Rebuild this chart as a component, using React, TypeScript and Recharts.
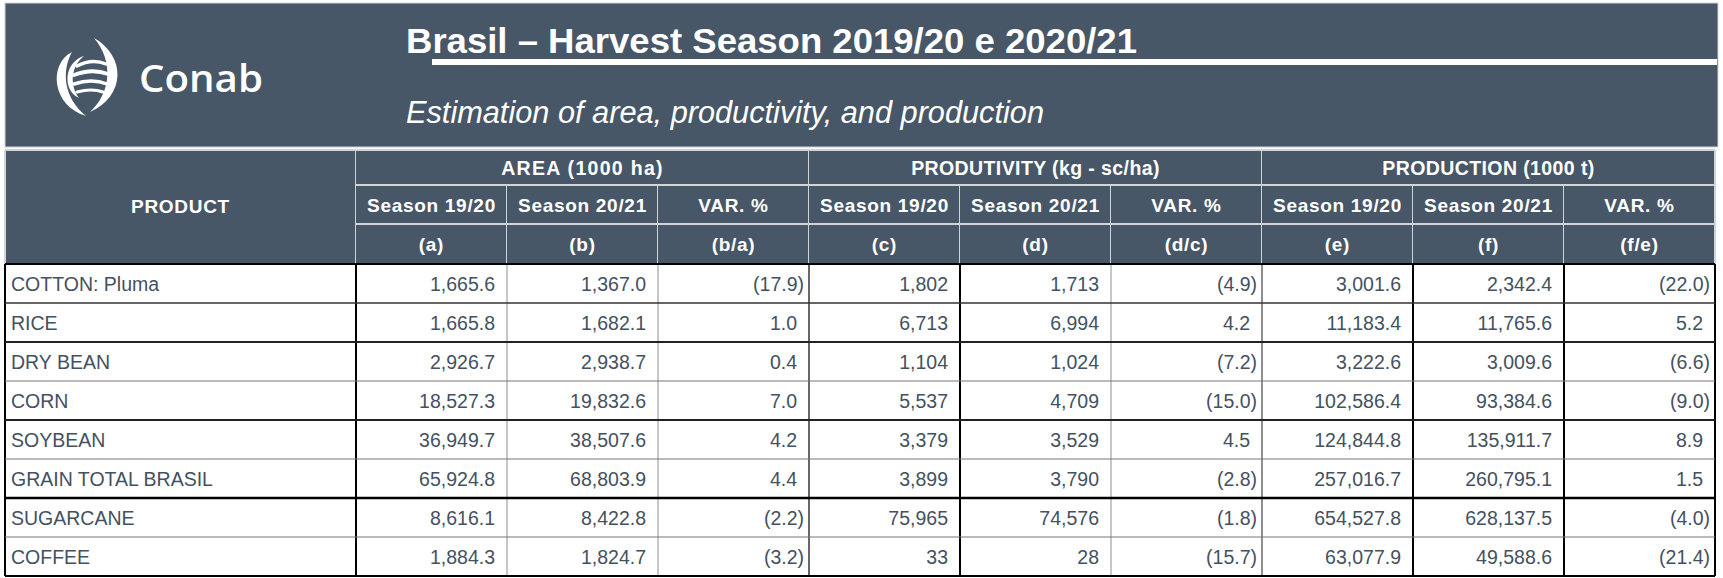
import React from 'react';
import { ScatterChart, Scatter, XAxis, YAxis, Customized } from 'recharts';

// ---------- data ----------
const products = ['COTTON: Pluma', 'RICE', 'DRY BEAN', 'CORN', 'SOYBEAN', 'GRAIN TOTAL BRASIL', 'SUGARCANE', 'COFFEE'];
const area1920 = [1665.6, 1665.8, 2926.7, 18527.3, 36949.7, 65924.8, 8616.1, 1884.3];
const area2021 = [1367.0, 1682.1, 2938.7, 19832.6, 38507.6, 68803.9, 8422.8, 1824.7];
const areaVar = [-17.9, 1.0, 0.4, 7.0, 4.2, 4.4, -2.2, -3.2];
const yield1920 = [1802, 6713, 1104, 5537, 3379, 3899, 75965, 33];
const yield2021 = [1713, 6994, 1024, 4709, 3529, 3790, 74576, 28];
const yieldVar = [-4.9, 4.2, -7.2, -15.0, 4.5, -2.8, -1.8, -15.7];
const output1920 = [3001.6, 11183.4, 3222.6, 102586.4, 124844.8, 257016.7, 654527.8, 63077.9];
const output2021 = [2342.4, 11765.6, 3009.6, 93384.6, 135911.7, 260795.1, 628137.5, 49588.6];
const outputVar = [-22.0, 5.2, -6.6, -9.0, 8.9, 1.5, -4.0, -21.4];

const columnLetters = ['(a)', '(b)', '(b/a)', '(c)', '(d)', '(d/c)', '(e)', '(f)', '(f/e)'];
const seasonLabels = ['Season 19/20', 'Season 20/21', 'VAR. %', 'Season 19/20', 'Season 20/21', 'VAR. %', 'Season 19/20', 'Season 20/21', 'VAR. %'];
const groupLabels = ['AREA (1000 ha)', 'PRODUTIVITY (kg - sc/ha)', 'PRODUCTION (1000 t)'];
const productHeader = 'PRODUCT';
const title = 'Brasil \u2013 Harvest Season 2019/20 e 2020/21';
const subtitle = 'Estimation of area, productivity, and production';
const brand = 'Conab';

const columnValues = [area1920, area2021, areaVar, yield1920, yield2021, yieldVar, output1920, output2021, outputVar];
const columnDecimals = [1, 1, 1, 0, 0, 1, 1, 1, 1];

const cells = products.flatMap((p, r) =>
  columnLetters.map((c, ci) => ({ col: c, product: p, value: columnValues[ci][r], ci }))
);
const groupPoints = groupLabels.map((g) => ({ group: g, product: products[0] }));

// ---------- layout / style ----------
const W = 1723;
const H = 578;
const LEFT = 5;
const PRODUCT_W = 351;
const RIGHT_M = 8;
const TOP = 150;
const GROUP_H = 35;
const SEASON_H = 79;
const BOTTOM_M = 2;
const CW = (W - LEFT - PRODUCT_W - RIGHT_M) / columnLetters.length;
const DATA_TOP = TOP + GROUP_H + SEASON_H;
const RH = (H - BOTTOM_M - DATA_TOP) / products.length;
const SEASON_TOP = TOP + GROUP_H;
const LETTER_TOP = SEASON_TOP + 39;
const PLOT_RIGHT = W - RIGHT_M;

const SLATE = '#485767';
const LIGHT = '#cfd4d9';
const INK = '#44515f';
const FONT = '"Liberation Sans", Arial, sans-serif';
const DATA_FS = 19.5;

const colBorder = [
  { c: '#8a8f94', w: 1 }, { c: '#8a8f94', w: 1 }, { c: '#333', w: 1.5 },
  { c: '#000', w: 2 }, { c: '#8a8f94', w: 1 }, { c: '#444', w: 1.2 },
  { c: '#000', w: 2 }, { c: '#000', w: 2 }, { c: '#000', w: 2 },
];
const rowBorder = [
  { c: '#333', w: 1.5 }, { c: '#222', w: 2 }, { c: '#777', w: 1 }, { c: '#222', w: 2 },
  { c: '#777', w: 1 }, { c: '#000', w: 2.5 }, { c: '#777', w: 1 }, { c: '#000', w: 2 },
];

const fmt = (v: number, d: number) => {
  const s = Math.abs(v).toLocaleString('en-US', { minimumFractionDigits: d, maximumFractionDigits: d });
  return v < 0 ? `(${s})` : s;
};

// ---------- renderers ----------
const GroupTick = (props: any) => {
  const { x, payload } = props;
  const w = CW * 3;
  const left = x - w / 2;
  const spacing = payload.value === groupLabels[0] ? 1.3 : 0.4;
  return (
    <g>
      <rect x={left} y={TOP} width={w} height={GROUP_H} fill={SLATE} />
      <line x1={left} x2={left + w} y1={TOP} y2={TOP} stroke={LIGHT} strokeWidth={2} />
      <line x1={left} x2={left + w} y1={TOP + GROUP_H} y2={TOP + GROUP_H} stroke={LIGHT} strokeWidth={2} />
      <line x1={left + w} x2={left + w} y1={TOP} y2={TOP + GROUP_H} stroke={LIGHT} strokeWidth={2} />
      <text x={x} y={TOP + 25} textAnchor="middle" fill="#fff" fontFamily={FONT} fontWeight="bold" fontSize={19.5} letterSpacing={spacing}>
        {payload.value}
      </text>
    </g>
  );
};

const SeasonTick = (props: any) => {
  const { x, payload } = props;
  const ci = columnLetters.indexOf(payload.value);
  const left = x - CW / 2;
  const right = x + CW / 2;
  const b = colBorder[ci];
  return (
    <g>
      <rect x={left} y={SEASON_TOP} width={CW} height={SEASON_H} fill={SLATE} />
      <line x1={left} x2={right} y1={LETTER_TOP} y2={LETTER_TOP} stroke={LIGHT} strokeWidth={2} />
      <line x1={right} x2={right} y1={SEASON_TOP} y2={DATA_TOP} stroke={LIGHT} strokeWidth={2} />
      <text x={x} y={SEASON_TOP + 27} textAnchor="middle" fill="#fff" fontFamily={FONT} fontWeight="bold" fontSize={19} letterSpacing={0.7}>
        {seasonLabels[ci]}
      </text>
      <text x={x} y={LETTER_TOP + 27} textAnchor="middle" fill="#fff" fontFamily={FONT} fontWeight="bold" fontSize={19} letterSpacing={0.7}>
        {payload.value}
      </text>
      <line x1={right} x2={right} y1={DATA_TOP} y2={H - BOTTOM_M} stroke={b.c} strokeWidth={b.w} />
    </g>
  );
};

const ProductTick = (props: any) => {
  const { y, payload } = props;
  const r = products.indexOf(payload.value);
  const b = rowBorder[r];
  return (
    <g>
      {r === 0 && (
        <line x1={LEFT} x2={PLOT_RIGHT} y1={y - RH / 2} y2={y - RH / 2} stroke="#000" strokeWidth={2} />
      )}
      <line x1={LEFT} x2={PLOT_RIGHT} y1={y + RH / 2} y2={y + RH / 2} stroke={b.c} strokeWidth={b.w} />
      <text x={LEFT + 6} y={y + 7.5} fill={INK} fontFamily={FONT} fontSize={DATA_FS}>
        {payload.value}
      </text>
    </g>
  );
};

const CellShape = (props: any) => {
  const { cx, cy, payload } = props;
  if (cx == null || cy == null) return null;
  const v = payload.value as number;
  const right = cx + CW / 2;
  const xEnd = v < 0 ? right - 5 : right - 12;
  return (
    <text x={xEnd} y={cy + 7.5} textAnchor="end" fill={INK} fontFamily={FONT} fontSize={DATA_FS}>
      {fmt(v, columnDecimals[payload.ci])}
    </text>
  );
};

const NoShape = () => <g />;

const HeaderBand = () => (
  <g>
    <rect x={LEFT} y={3} width={W - LEFT - 5} height={144} fill={SLATE} stroke={LIGHT} strokeWidth={1} />
    <rect x={432} y={59} width={W - 432 - 6} height={6} fill="#fff" />
    {/* logo */}
    <g fill="#fff">
      <path d="M94 38 C126 56, 126 96, 90 112 C112 92, 113 60, 94 38 Z" />
      <path d="M86 116 C52 106, 48 64, 72 52 C61 72, 64 98, 86 116 Z" />
      <path d="M84 56 C64 62, 62 90, 79 98 C70 86, 70 67, 84 56 Z" />
    </g>
    <g fill="none" stroke="#fff" strokeLinecap="round">
      <path d="M77 66 Q92 58 106 64" strokeWidth={3.5} />
      <path d="M74 75 Q92 68 108 74" strokeWidth={3.8} />
      <path d="M74 84 Q92 78 107 84" strokeWidth={3.5} />
      <path d="M77 92 Q92 88 103 92" strokeWidth={3} />
    </g>
    <text x={139} y={92} fill="#fff" fontFamily='"Open Sans", "Noto Sans", sans-serif' fontWeight={600} fontSize={37} textLength={124} lengthAdjust="spacingAndGlyphs">
      {brand}
    </text>
    <text x={406} y={53} fill="#fff" fontFamily={FONT} fontWeight="bold" fontSize={35} textLength={731} lengthAdjust="spacingAndGlyphs">
      {title}
    </text>
    <text x={406} y={123} fill="#fff" fontFamily={FONT} fontStyle="italic" fontSize={31} textLength={638} lengthAdjust="spacingAndGlyphs">
      {subtitle}
    </text>
    {/* product header cell */}
    <rect x={LEFT} y={TOP} width={PRODUCT_W} height={GROUP_H + SEASON_H} fill={SLATE} />
    <line x1={LEFT} x2={LEFT} y1={TOP} y2={DATA_TOP} stroke={LIGHT} strokeWidth={2} />
    <line x1={LEFT} x2={LEFT + PRODUCT_W} y1={TOP} y2={TOP} stroke={LIGHT} strokeWidth={2} />
    <line x1={LEFT + PRODUCT_W} x2={LEFT + PRODUCT_W} y1={TOP} y2={DATA_TOP} stroke={LIGHT} strokeWidth={2} />
    <text x={LEFT + PRODUCT_W / 2} y={TOP + 63} textAnchor="middle" fill="#fff" fontFamily={FONT} fontWeight="bold" fontSize={19} letterSpacing={0.7}>
      {productHeader}
    </text>
    {/* data outer verticals */}
    <line x1={LEFT} x2={LEFT} y1={DATA_TOP} y2={H - BOTTOM_M} stroke="#000" strokeWidth={2} />
    <line x1={LEFT + PRODUCT_W} x2={LEFT + PRODUCT_W} y1={DATA_TOP} y2={H - BOTTOM_M} stroke="#000" strokeWidth={2} />
  </g>
);

export default function App() {
  return (
    <div style={{ width: W, height: H, background: '#fff' }}>
      <style>{'body{margin:0}'}</style>
      <ScatterChart width={W} height={H} margin={{ top: TOP, right: RIGHT_M, bottom: BOTTOM_M, left: LEFT }}>
        <Customized component={HeaderBand} />
        <XAxis
          xAxisId="s"
          orientation="top"
          type="category"
          dataKey="col"
          allowDuplicatedCategory={false}
          height={SEASON_H}
          interval={0}
          tickLine={false}
          axisLine={false}
          tick={SeasonTick}
        />
        <XAxis
          xAxisId="g"
          orientation="top"
          type="category"
          dataKey="group"
          allowDuplicatedCategory={false}
          height={GROUP_H}
          interval={0}
          tickLine={false}
          axisLine={false}
          tick={GroupTick}
        />
        <YAxis
          type="category"
          dataKey="product"
          allowDuplicatedCategory={false}
          reversed
          width={PRODUCT_W}
          interval={0}
          tickLine={false}
          axisLine={false}
          tick={ProductTick}
        />
        <Scatter data={cells} xAxisId="s" shape={CellShape} isAnimationActive={false} />
        <Scatter data={groupPoints} xAxisId="g" shape={NoShape} isAnimationActive={false} />
      </ScatterChart>
    </div>
  );
}
